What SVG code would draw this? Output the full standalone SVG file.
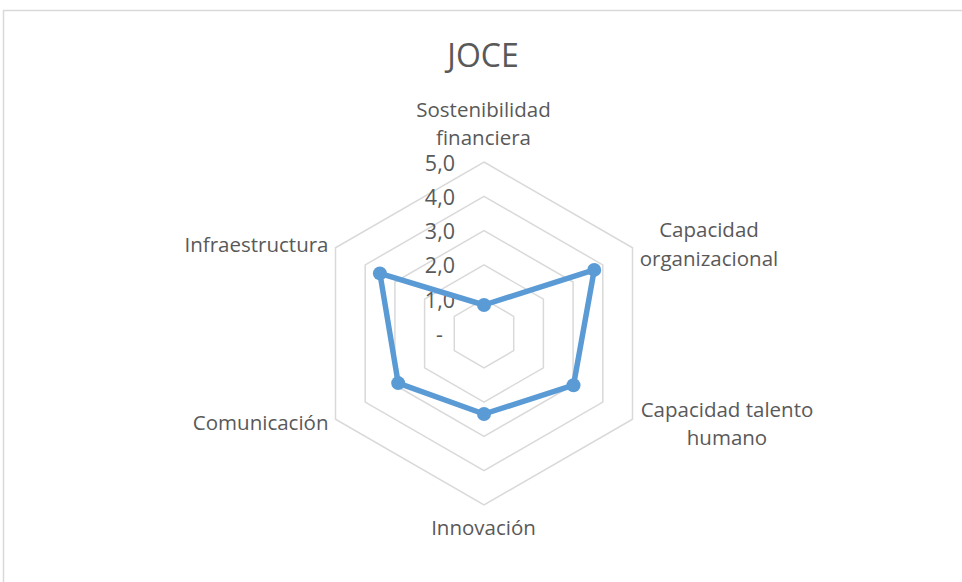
<svg xmlns="http://www.w3.org/2000/svg" width="962" height="582" viewBox="0 0 962 582">
<style>
.t{font-family:"Open Sans","Noto Sans","Liberation Sans",sans-serif;fill:#595959;font-size:20.5px}
.title{font-size:32px}
.tick{font-size:21.5px}
.grid{fill:none;stroke:#D9D9D9;stroke-width:1.5}
.data{fill:none;stroke:#5B9BD5;stroke-width:5.5;stroke-linejoin:round}
.dot{fill:#5B9BD5}
</style>
<rect x="3.5" y="10.5" width="970" height="590" fill="#FFFFFF" stroke="#D9D9D9" stroke-width="1.5"/>
<text class="t title" x="483" y="67" text-anchor="middle">JOCE</text>
<g id="grid">
<polygon class="grid" points="484,299.2 513.7,316.35 513.7,350.65 484,367.8 454.3,350.65 454.3,316.35"/>
<polygon class="grid" points="484,264.9 543.4,299.2 543.4,367.8 484,402.1 424.6,367.8 424.6,299.2"/>
<polygon class="grid" points="484,230.6 573.1,282.05 573.1,384.95 484,436.4 394.9,384.95 394.9,282.05"/>
<polygon class="grid" points="484,196.3 602.8,264.9 602.8,402.1 484,470.7 365.2,402.1 365.2,264.9"/>
<polygon class="grid" points="484,162 632.5,247.75 632.5,419.25 484,505 335.5,419.25 335.5,247.75"/>
</g>
<g id="scale">
<text class="t tick" x="455" y="170.5" text-anchor="end">5,0</text>
<text class="t tick" x="455" y="204.8" text-anchor="end">4,0</text>
<text class="t tick" x="455" y="239.1" text-anchor="end">3,0</text>
<text class="t tick" x="455" y="273.4" text-anchor="end">2,0</text>
<text class="t tick" x="455" y="307.7" text-anchor="end">1,0</text>
<text class="t tick" x="443" y="342" text-anchor="end">-</text>
</g>
<g id="connectors">
<polygon class="data" points="484,305 594.2,269.9 573.5,385.2 484,414 398.2,383.1 379.9,273.4"/>
</g>
<g id="node-sostenibilidad">
<circle class="dot" cx="484" cy="305" r="7"/>
<text class="t" x="483.5" y="116.7" text-anchor="middle">Sostenibilidad</text>
<text class="t" x="483.5" y="145" text-anchor="middle">financiera</text>
</g>
<g id="node-organizacional">
<circle class="dot" cx="594.2" cy="269.9" r="7"/>
<text class="t" x="709" y="236.5" text-anchor="middle">Capacidad</text>
<text class="t" x="709" y="265.5" text-anchor="middle">organizacional</text>
</g>
<g id="node-talento">
<circle class="dot" cx="573.5" cy="385.2" r="7"/>
<text class="t" x="727" y="416.7" text-anchor="middle">Capacidad talento</text>
<text class="t" x="727" y="445.3" text-anchor="middle">humano</text>
</g>
<g id="node-innovacion">
<circle class="dot" cx="484" cy="414" r="7"/>
<text class="t" x="483.5" y="535" text-anchor="middle">Innovación</text>
</g>
<g id="node-comunicacion">
<circle class="dot" cx="398.2" cy="383.1" r="7"/>
<text class="t" x="328.5" y="430" text-anchor="end">Comunicación</text>
</g>
<g id="node-infraestructura">
<circle class="dot" cx="379.9" cy="273.4" r="7"/>
<text class="t" x="328.5" y="252.3" text-anchor="end">Infraestructura</text>
</g>
</svg>
